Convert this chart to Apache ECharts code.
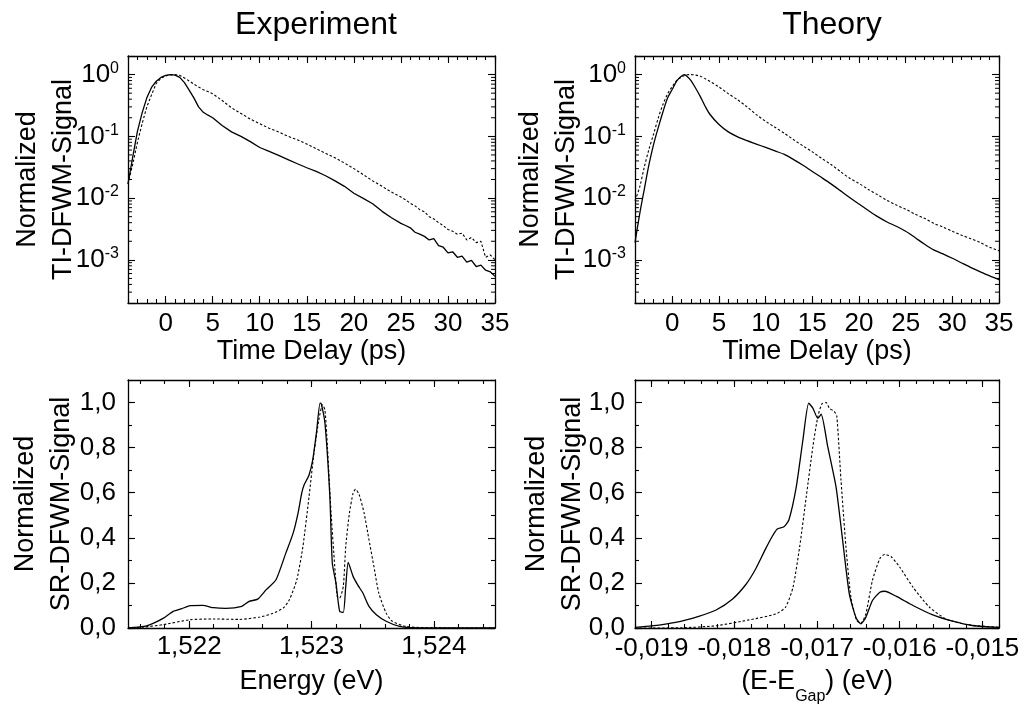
<!DOCTYPE html>
<html><head><meta charset="utf-8">
<script src="https://cdn.jsdelivr.net/npm/echarts@6/dist/echarts.min.js"></script>
<style>html,body{margin:0;padding:0;background:#fff}#c{width:1029px;height:709px}</style>
</head><body><div id="c"></div>
<script>
// ---------------- DATA ----------------
const panelTitles = ['Experiment', 'Theory'];
const timeTicks = [0, 5, 10, 15, 20, 25, 30, 35];
const logTicks = [0.001, 0.01, 0.1, 1];
const srTicks = [0, 0.2, 0.4, 0.6, 0.8, 1.0];
const energyTicks = [1.522, 1.523, 1.524];
const gapTicks = [-0.019, -0.018, -0.017, -0.016, -0.015];

// Experiment, time-integrated DFWM (ps, normalized)
const expTimeX = [-4,-3.5,-3,-2.5,-2,-1.5,-1,-0.5,0,0.5,1,1.5,2,2.5,3,3.5,4,4.5,5,6,7,8,9,10,11,12,13,14,15,16,17,18,19,20,21,22,23,24,25,25.5,26,26.5,27,27.5,28,28.5,29,29.5,30,30.5,31,31.5,32,32.5,33,33.5,34,34.5,35];
const expTISolid = [0.017,0.046,0.12,0.24,0.42,0.62,0.78,0.90,0.97,1.0,0.98,0.90,0.74,0.56,0.42,0.30,0.245,0.22,0.20,0.15,0.118,0.10,0.082,0.066,0.057,0.049,0.042,0.036,0.031,0.027,0.023,0.019,0.0155,0.012,0.0099,0.0081,0.0061,0.0048,0.0039,0.0036,0.0033,0.0028,0.0026,0.0024,0.0021,0.0022,0.0017,0.0016,0.0013,0.00135,0.0011,0.00115,0.00092,0.00098,0.00078,0.00082,0.00068,0.00064,0.00054];
const expTIDotted = [0.017,0.035,0.08,0.16,0.30,0.47,0.72,0.87,0.95,0.99,1.0,0.97,0.88,0.79,0.70,0.63,0.57,0.53,0.49,0.38,0.29,0.235,0.19,0.16,0.135,0.118,0.10,0.088,0.075,0.063,0.053,0.045,0.037,0.030,0.024,0.019,0.0155,0.0125,0.0104,0.0094,0.0082,0.0075,0.0065,0.0060,0.0050,0.0046,0.0040,0.0036,0.0031,0.0029,0.0026,0.0027,0.0021,0.0023,0.0019,0.0020,0.0011,0.0012,0.0010];

// Theory, time-integrated DFWM
const thTimeX = [-4,-3.5,-3,-2.5,-2,-1.5,-1,-0.5,0,0.5,1,1.25,1.5,2,2.5,3,3.5,4,5,6,7,8,9,10,11,12,13,14,15,16,17,18,19,20,21,22,23,24,25,26,27,28,29,30,31,32,33,34,35];
const thTISolid = [0.0019,0.0055,0.014,0.035,0.075,0.14,0.25,0.42,0.58,0.80,0.95,1.0,0.96,0.80,0.60,0.44,0.31,0.23,0.155,0.118,0.098,0.085,0.075,0.066,0.058,0.051,0.042,0.034,0.027,0.0215,0.017,0.0132,0.0102,0.0080,0.0063,0.0050,0.0041,0.0035,0.0029,0.0023,0.0018,0.00145,0.00125,0.00106,0.00089,0.00075,0.00064,0.00055,0.00048];
const thTIDotted = [0.0091,0.015,0.032,0.062,0.11,0.20,0.33,0.49,0.64,0.81,0.92,0.96,0.99,1.0,0.98,0.94,0.86,0.78,0.63,0.49,0.39,0.30,0.225,0.175,0.14,0.112,0.088,0.070,0.056,0.044,0.035,0.027,0.021,0.0173,0.0138,0.0113,0.0092,0.0077,0.0066,0.0055,0.0047,0.0039,0.0034,0.0029,0.0025,0.0022,0.0019,0.0016,0.0014];

// Experiment, spectrally resolved DFWM (eV, normalized)
const expSRSolidE = [1.5215,1.52163,1.52171,1.52179,1.52187,1.52194,1.52201,1.52211,1.52220,1.52230,1.52243,1.52249,1.52256,1.52263,1.52271,1.52279,1.52285,1.52289,1.52292,1.52294,1.52298,1.52301,1.52304,1.52307,1.52308,1.52311,1.52315,1.52317,1.52320,1.52323,1.52326,1.52328,1.52330,1.52334,1.52338,1.52342,1.52347,1.52353,1.52361,1.52372,1.52385,1.5245];
const expSRSolid = [0,0.007,0.022,0.044,0.074,0.086,0.099,0.100,0.090,0.087,0.096,0.118,0.128,0.170,0.214,0.332,0.421,0.510,0.598,0.635,0.679,0.746,0.864,0.997,0.994,0.908,0.583,0.288,0.199,0.074,0.069,0.185,0.291,0.229,0.189,0.155,0.096,0.059,0.030,0.007,0.001,0];
const expSRDotE = [1.5215,1.52163,1.52179,1.52201,1.52220,1.52241,1.52258,1.52268,1.52277,1.52282,1.52288,1.52293,1.52298,1.52302,1.52306,1.52309,1.52311,1.52313,1.52316,1.52319,1.52321,1.52323,1.52326,1.52328,1.52331,1.52334,1.52336,1.52339,1.52343,1.52347,1.52351,1.52355,1.52361,1.52366,1.52377,1.52393,1.5245];
const expSRDot = [0,0.004,0.015,0.037,0.040,0.038,0.049,0.064,0.089,0.126,0.214,0.362,0.583,0.775,0.923,0.990,0.967,0.805,0.510,0.273,0.140,0.133,0.185,0.362,0.510,0.598,0.616,0.591,0.510,0.391,0.273,0.155,0.066,0.030,0.007,0.001,0];

// Theory, spectrally resolved DFWM (E - E_Gap, eV)
const thSRSolidE = [-0.0192,-0.0190,-0.01871,-0.01843,-0.01822,-0.01802,-0.01786,-0.01774,-0.01762,-0.01754,-0.01748,-0.01740,-0.01734,-0.01725,-0.01717,-0.01710,-0.01705,-0.01699,-0.01695,-0.01687,-0.01677,-0.01669,-0.01661,-0.01653,-0.01647,-0.01641,-0.01633,-0.01624,-0.01618,-0.01604,-0.01584,-0.01560,-0.01536,-0.01511,-0.0148];
const thSRSolid = [0.003,0.009,0.025,0.052,0.080,0.129,0.193,0.263,0.352,0.407,0.439,0.449,0.479,0.627,0.835,0.997,0.975,0.930,0.948,0.804,0.626,0.389,0.152,0.047,0.018,0.047,0.122,0.159,0.163,0.140,0.100,0.058,0.030,0.010,0.003];
const thSRDotE = [-0.0192,-0.01863,-0.01822,-0.01782,-0.01750,-0.01738,-0.01729,-0.01721,-0.01713,-0.01705,-0.01699,-0.01694,-0.01689,-0.01685,-0.01679,-0.01676,-0.01671,-0.01665,-0.01659,-0.01652,-0.01647,-0.01641,-0.01633,-0.01624,-0.01618,-0.01610,-0.01600,-0.01584,-0.01564,-0.01544,-0.01519,-0.0148];
const thSRDot = [0,0.001,0.010,0.036,0.062,0.092,0.181,0.359,0.582,0.804,0.938,0.994,1.0,0.975,0.96,0.938,0.656,0.359,0.136,0.033,0.021,0.062,0.211,0.308,0.327,0.315,0.270,0.181,0.092,0.040,0.015,0.003];

// ---------------- BUILD ----------------
const FONT = '"Liberation Sans", Arial, Helvetica, sans-serif';
const BLACK = '#000';
const TICKFS = 26, NAMEFS = 27;
const zip = (a, b) => a.map((v, i) => [v, b[i]]);
const steps = (k0, k1, f) => { const r = []; for (let k = k0; k <= k1; k++) r.push(f(k)); return r; };

const grids = [
  {left: 128, top: 56, width: 367, height: 247},
  {left: 635, top: 56, width: 364, height: 247},
  {left: 128, top: 380, width: 367, height: 248},
  {left: 635, top: 380, width: 364, height: 248}
];
const xAxes = [], yAxes = [], series = [];
const lineSt = {color: BLACK, width: 1.3};
const tickSt = {color: BLACK, width: 1.1};

function addX(gi, c) {
  const base = {gridIndex: gi, type: 'value', min: c.min, max: c.max, splitLine: {show: false}};
  const idx = xAxes.length;
  xAxes.push(Object.assign({}, base, {
    position: 'bottom',
    axisLine: {show: true, onZero: false, lineStyle: lineSt},
    axisTick: {show: true, inside: true, length: 7, customValues: c.majors, lineStyle: tickSt},
    axisLabel: {show: true, customValues: c.majors, formatter: c.fmt, margin: c.margin, fontSize: TICKFS, color: BLACK, fontFamily: FONT},
    name: c.name, nameLocation: 'middle', nameGap: c.nameGap, nameMoveOverlap: false,
    nameTextStyle: Object.assign({fontSize: NAMEFS, color: BLACK, fontFamily: FONT}, c.nameStyle || {})
  }));
  xAxes.push(Object.assign({}, base, {position: 'bottom', axisLine: {show: false, onZero: false},
    axisTick: {show: true, inside: true, length: 4, customValues: c.minors, lineStyle: tickSt}, axisLabel: {show: false}}));
  xAxes.push(Object.assign({}, base, {position: 'top', axisLine: {show: true, onZero: false, lineStyle: lineSt},
    axisTick: {show: true, inside: true, length: 7, customValues: c.majors, lineStyle: tickSt}, axisLabel: {show: false}}));
  xAxes.push(Object.assign({}, base, {position: 'top', axisLine: {show: false, onZero: false},
    axisTick: {show: true, inside: true, length: 4, customValues: c.minors, lineStyle: tickSt}, axisLabel: {show: false}}));
  return idx;
}

function addYLinear(gi, c) {
  const base = {gridIndex: gi, type: 'value', min: c.min, max: c.max, splitLine: {show: false}};
  const idx = yAxes.length;
  yAxes.push(Object.assign({}, base, {
    position: 'left',
    axisLine: {show: true, onZero: false, lineStyle: lineSt},
    axisTick: {show: true, inside: true, length: 7, customValues: c.majors, lineStyle: tickSt},
    axisLabel: {show: true, customValues: c.majors, formatter: c.fmt, margin: c.margin, fontSize: TICKFS, color: BLACK, fontFamily: FONT},
    name: c.name, nameLocation: 'middle', nameGap: c.nameGap, nameRotate: 90, nameMoveOverlap: false,
    nameTextStyle: {fontSize: NAMEFS, lineHeight: 36, color: BLACK, fontFamily: FONT}
  }));
  yAxes.push(Object.assign({}, base, {position: 'left', axisLine: {show: false, onZero: false},
    axisTick: {show: true, inside: true, length: 4, customValues: c.minors, lineStyle: tickSt}, axisLabel: {show: false}}));
  yAxes.push(Object.assign({}, base, {position: 'right', axisLine: {show: true, onZero: false, lineStyle: lineSt},
    axisTick: {show: true, inside: true, length: 7, customValues: c.majors, lineStyle: tickSt}, axisLabel: {show: false}}));
  yAxes.push(Object.assign({}, base, {position: 'right', axisLine: {show: false, onZero: false},
    axisTick: {show: true, inside: true, length: 4, customValues: c.minors, lineStyle: tickSt}, axisLabel: {show: false}}));
  return idx;
}

function logFmt(v) {
  const e = Math.log10(v), r = Math.round(e);
  if (Math.abs(e - r) > 1e-6) return '';
  return '{b|10}{s|' + r + '}';
}

function addYLog(gi, c) {
  const base = {gridIndex: gi, type: 'log', logBase: 10, min: c.min, max: c.max, splitLine: {show: false}};
  const idx = yAxes.length;
  yAxes.push(Object.assign({}, base, {
    position: 'left',
    axisLine: {show: true, onZero: false, lineStyle: lineSt},
    axisTick: {show: true, inside: true, length: 7, lineStyle: tickSt},
    axisLabel: {show: true, formatter: logFmt, margin: c.margin, color: BLACK, fontFamily: FONT,
      rich: {b: {fontSize: TICKFS, lineHeight: 28, fontFamily: FONT, color: BLACK},
             s: {fontSize: 16, lineHeight: 13, verticalAlign: 'top', fontFamily: FONT, color: BLACK}}},
    name: c.name, nameLocation: 'middle', nameGap: c.nameGap, nameRotate: 90, nameMoveOverlap: false,
    nameTextStyle: {fontSize: NAMEFS, lineHeight: 36, color: BLACK, fontFamily: FONT}
  }));
  yAxes.push(Object.assign({}, base, {position: 'right', axisLine: {show: true, onZero: false, lineStyle: lineSt},
    axisTick: {show: true, inside: true, length: 7, lineStyle: tickSt}, axisLabel: {show: false}}));
  return idx;
}

function logMinorTicks(xi, yi, c) {
  const vals = [];
  for (let e = -4; e <= 0; e++) for (let k = 2; k <= 9; k++) {
    const v = k * Math.pow(10, e);
    if (v > c.min && v < c.max) vals.push([c.xRef, v]);
  }
  series.push({
    type: 'custom', xAxisIndex: xi, yAxisIndex: yi, data: vals, silent: true, clip: false, z: 3,
    renderItem: (params, api) => {
      const cs = params.coordSys;
      const y = api.coord([api.value(0), api.value(1)])[1];
      return {type: 'group', children: [
        {type: 'line', shape: {x1: cs.x, y1: y, x2: cs.x + 4, y2: y}, style: {stroke: BLACK, lineWidth: 1}},
        {type: 'line', shape: {x1: cs.x + cs.width, y1: y, x2: cs.x + cs.width - 4, y2: y}, style: {stroke: BLACK, lineWidth: 1}}
      ]};
    }
  });
}

function addLine(xi, yi, data, dotted, smooth) {
  series.push({
    type: 'line', xAxisIndex: xi, yAxisIndex: yi, data: data, symbol: 'none', showSymbol: false,
    smooth: smooth, z: 5,
    lineStyle: dotted ? {color: BLACK, width: 1.1, type: [2.5, 2]} : {color: BLACK, width: 1.3, type: 'solid'}
  });
}

const timeMinors = steps(-4, 35, k => k);
const timeFmt = v => String(v);
const logCfg = {min: 0.0002, max: 2, xRef: 10};
const srMinors = steps(0, 11, k => +(k * 0.1).toFixed(1));
const srFmt = v => v.toFixed(1).replace('.', ',');

// Panel 0: experiment TI
let xi = addX(0, {min: -4, max: 35, majors: timeTicks, minors: timeMinors, fmt: timeFmt, margin: 8,
  name: 'Time Delay (ps)', nameGap: 35});
let yi = addYLog(0, Object.assign({margin: 9, name: 'Normalized\nTI-DFWM-Signal', nameGap: 46}, logCfg));
logMinorTicks(xi, yi, logCfg);
addLine(xi, yi, zip(expTimeX, expTIDotted), true, false);
addLine(xi, yi, zip(expTimeX, expTISolid), false, false);

// Panel 1: theory TI
xi = addX(1, {min: -4, max: 35, majors: timeTicks, minors: timeMinors, fmt: timeFmt, margin: 8,
  name: 'Time Delay (ps)', nameGap: 35});
yi = addYLog(1, Object.assign({margin: 9, name: 'Normalized\nTI-DFWM-Signal', nameGap: 50}, logCfg));
logMinorTicks(xi, yi, logCfg);
addLine(xi, yi, zip(thTimeX, thTIDotted), true, 0.3);
addLine(xi, yi, zip(thTimeX, thTISolid), false, 0.3);

// Panel 2: experiment SR
xi = addX(2, {min: 1.5215, max: 1.5245, majors: energyTicks, minors: steps(7608, 7622, k => +(k * 0.0002).toFixed(4)),
  fmt: v => v.toFixed(3).replace('.', ','), margin: 6, name: 'Energy (eV)', nameGap: 40});
yi = addYLinear(2, {min: 0, max: 1.1, majors: srTicks, minors: srMinors, fmt: srFmt, margin: 12,
  name: 'Normalized\nSR-DFWM-Signal', nameGap: 48});
addLine(xi, yi, zip(expSRDotE, expSRDot), true, 0.2);
addLine(xi, yi, zip(expSRSolidE, expSRSolid), false, 0.2);

// Panel 3: theory SR
xi = addX(3, {min: -0.0192, max: -0.0148, majors: gapTicks, minors: steps(-96, -74, k => +(k * 0.0002).toFixed(4)),
  fmt: v => v.toFixed(3).replace('.', ','), margin: 8, name: '(E-E{sub|Gap}) (eV)', nameGap: 31,
  nameStyle: {lineHeight: 46, rich: {sub: {fontSize: 16, lineHeight: 16, verticalAlign: 'bottom', color: BLACK, fontFamily: FONT}}}});
yi = addYLinear(3, {min: 0, max: 1.1, majors: srTicks, minors: srMinors, fmt: srFmt, margin: 10,
  name: 'Normalized\nSR-DFWM-Signal', nameGap: 44});
addLine(xi, yi, zip(thSRDotE, thSRDot), true, 0.2);
addLine(xi, yi, zip(thSRSolidE, thSRSolid), false, 0.2);

const chart = echarts.init(document.getElementById('c'), null, {renderer: 'canvas'});
chart.setOption({
  backgroundColor: '#fff',
  animation: false,
  title: [
    {text: panelTitles[0], left: 311, top: 4, textAlign: 'center', textStyle: {fontSize: 32, fontWeight: 'normal', color: BLACK, fontFamily: FONT}},
    {text: panelTitles[1], left: 827, top: 4, textAlign: 'center', textStyle: {fontSize: 32, fontWeight: 'normal', color: BLACK, fontFamily: FONT}}
  ],
  grid: grids,
  xAxis: xAxes,
  yAxis: yAxes,
  series: series
});
</script>
</body></html>
